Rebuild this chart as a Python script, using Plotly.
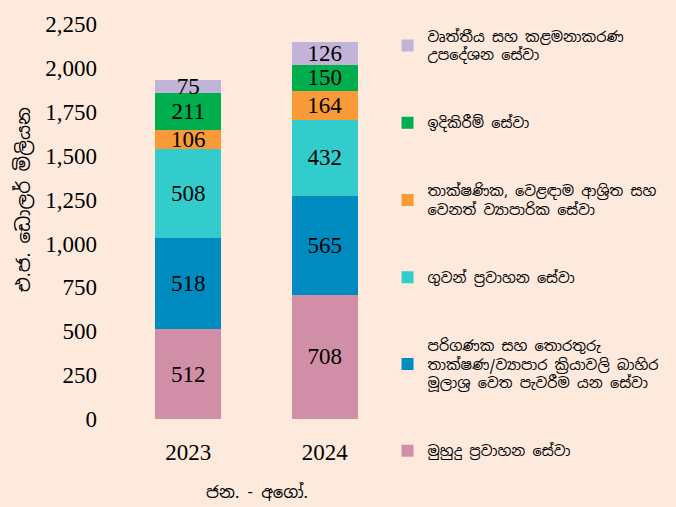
import plotly.graph_objects as go

# Servicios exportados, ene-ago (millones de USD)
years = ['2023', '2024']
sea_transport = [512, 708]
it_bpo = [518, 565]
air_transport = [508, 432]
technical_trade = [106, 164]
construction = [211, 150]
professional = [75, 126]

series_names = [
    'මුහුදු ප්‍රවාහන සේවා',
    'පරිගණක සහ තොරතුරු<br>තාක්ෂණ/ව්‍යාපාර ක්‍රියාවලි බාහිර<br>මූලාශ්‍ර වෙත පැවරීම යන සේවා',
    'ගුවන් ප්‍රවාහන සේවා',
    'තාක්ෂණික, වෙළඳාම ආශ්‍රිත සහ<br>වෙනත් ව්‍යාපාරික සේවා',
    'ඉදිකිරීම් සේවා',
    'වෘත්තීය සහ කළමනාකරණ<br>උපදේශන සේවා',
]
series_values = [sea_transport, it_bpo, air_transport, technical_trade, construction, professional]
colors = ['#D08FA7', '#008BC0', '#33CCCC', '#F99A38', '#00AE4E', '#C2B4D8']

BG = '#FDEADD'
SERIF = 'Liberation Serif, Times New Roman, serif'
SINH = 'Noto Sans Sinhala, Iskoola Pota, Noto Sans, sans-serif'

fig = go.Figure()
for i, (name, vals) in enumerate(zip(series_names, series_values)):
    fig.add_trace(go.Bar(
        x=years, y=vals, name=name, legendgroup=str(i),
        legendrank=100 - i,  # top of the stack first in the legend
        marker=dict(color=colors[i], line=dict(width=0)),
        text=[str(v) for v in vals], textposition='inside', textangle=0,
        insidetextanchor='middle', constraintext='none',
        textfont=dict(family=SERIF, size=23, color='black'),
    ))

fig.update_layout(
    barmode='stack', bargap=0.52,
    width=676, height=507,
    paper_bgcolor=BG, plot_bgcolor=BG,
    margin=dict(l=120, r=280, t=24, b=88),
    showlegend=True,
    legend=dict(
        x=0.98, y=1.01, xanchor='left', yanchor='top',
        traceorder='grouped', tracegroupgap=46, maxheight=500,
        font=dict(family=SINH, size=14.5, color='black'),
        bgcolor='rgba(0,0,0,0)', itemwidth=30,
    ),
    xaxis=dict(
        showgrid=False, showline=False, ticks='',
        tickfont=dict(family=SERIF, size=23, color='black'),
        ticklabelstandoff=17,
    ),
    yaxis=dict(
        range=[0, 2250], dtick=250, tickformat=',',
        showgrid=False, showline=False, zeroline=False, ticks='',
        tickfont=dict(family=SERIF, size=23, color='black'),
        ticklabelstandoff=22,
    ),
    annotations=[
        dict(text='එ.ජ. ඩොලර් මිලියන', textangle=-90,
             xref='paper', yref='paper', x=-0.355, y=0.554,
             xanchor='center', yanchor='middle', showarrow=False,
             font=dict(family=SINH, size=18.5, color='black')),
        dict(text='ජන. - අගෝ.', xref='paper', yref='paper',
             x=0.5, y=-0.185, xanchor='center', yanchor='middle',
             showarrow=False, font=dict(family=SINH, size=16.5, color='black')),
    ],
)

fig.write_html("out.html", config={'displayModeBar': False},
               post_script="document.body.style.margin='0';")
